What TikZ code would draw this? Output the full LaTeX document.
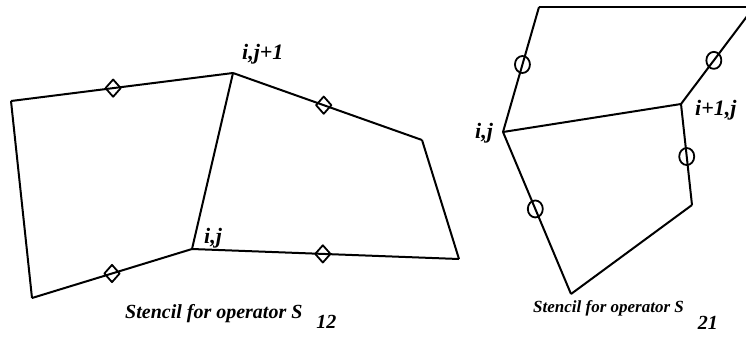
\documentclass[tikz,border=0pt]{standalone}
\usepackage{fontspec}
\setmainfont{Liberation Serif}
\usetikzlibrary{shapes.geometric}
\tikzset{
  edge/.style={line width=2pt, line join=round},
  dmark/.style={diamond, draw, line width=1.8pt, minimum width=16pt, minimum height=18pt, inner sep=0pt},
  cmark/.style={ellipse, draw, line width=1.8pt, minimum width=15pt, minimum height=17pt, inner sep=0pt},
  lbl/.style={font=\fontsize{22}{22}\selectfont\bfseries\itshape, inner sep=0pt, anchor=base west},
  captxt/.style={font=\fontsize{20}{20}\selectfont\bfseries\itshape, inner sep=0pt, anchor=base west},
  captxtb/.style={font=\fontsize{17}{17}\selectfont\bfseries\itshape, inner sep=0pt, anchor=base west}
}
\begin{document}
\begin{tikzpicture}[x=1pt,y=-1pt]
\useasboundingbox (0,0) rectangle (746,338);
\clip (0,0) rectangle (746,338);
% left stencil
\coordinate (A) at (11,101);
\coordinate (B) at (233,73);
\coordinate (C) at (422,140);
\coordinate (D) at (459,259);
\coordinate (E) at (192,249);
\coordinate (F) at (32,298);
\draw[edge] (F) -- (A);
\draw[edge] (A) -- node[dmark, pos=0.46] (d1) {} (B);
\draw[edge] (B) -- node[dmark, pos=0.48] (d2) {} (C);
\draw[edge] (C) -- (D);
\draw[edge] (E) -- node[dmark, pos=0.49] (d3) {} (D);
\draw[edge] (F) -- node[dmark, pos=0.5] (d4) {} (E);
\draw[edge] (E) -- (B);
\node[lbl] (l1) at (242,59) {i,j+1};
\node[lbl] (l2) at (204,243) {i,j};
\node[captxt] (c1) at (125,318) {Stencil for operator S\hspace{14pt}\raisebox{-10pt}{12}};
% right stencil
\coordinate (G) at (539,7);
\coordinate (K) at (754,7);
\coordinate (H) at (503,132);
\coordinate (I) at (681,104);
\coordinate (L) at (692,205);
\coordinate (M) at (571,294);
\draw[edge] (G) -- (K);
\draw[edge] (G) -- node[cmark, pos=0.46] (o1) {} (H);
\draw[edge] (K) -- node[cmark, pos=0.55] (o2) {} (I);
\draw[edge] (H) -- (I);
\draw[edge] (I) -- node[cmark, pos=0.52] (o3) {} (L);
\draw[edge] (L) -- (M);
\draw[edge] (H) -- node[cmark, pos=0.475] (o4) {} (M);
\node[lbl] (l3) at (475,138) {i,j};
\node[lbl] (l4) at (695,115) {i+1,j};
\node[captxtb] (c2) at (533,312) {Stencil for operator S\hspace{14pt}\raisebox{-17pt}{\fontsize{20}{20}\selectfont 21}};
\end{tikzpicture}
\end{document}
